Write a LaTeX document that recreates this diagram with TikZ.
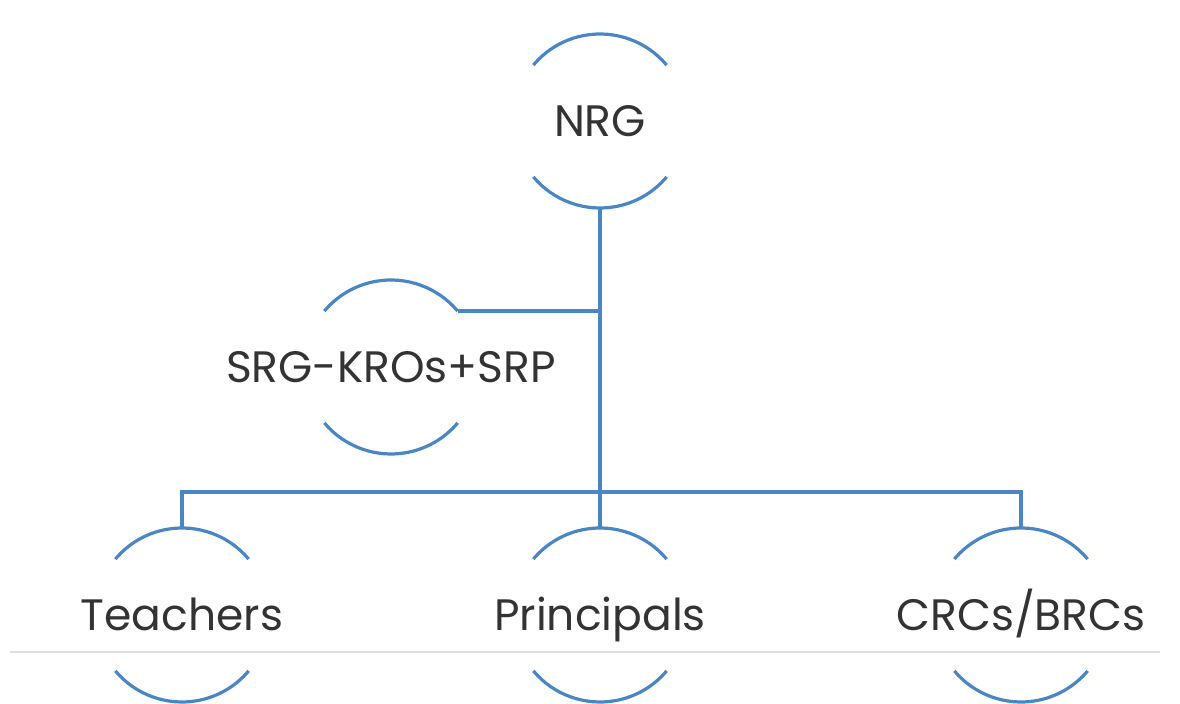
\documentclass[tikz,border=0pt]{standalone}
\usepackage{fontspec}
\setmainfont{Poppins}
\usepackage{tikz}
\usetikzlibrary{positioning}
\definecolor{linkblue}{RGB}{74,134,196}
\definecolor{labelgray}{RGB}{51,51,51}
\def\RingRad{43.5pt}

\begin{document}
\begin{tikzpicture}[x=0.5pt,y=-0.5pt,
	ring/.style={inner sep=0pt,outer sep=0pt,
		text=labelgray,text height=16pt,text depth=0pt,
		font=\fontsize{22}{26}\selectfont},
	rim/.style={draw=linkblue,line width=1.6pt},
	link/.style={draw=linkblue,line width=1.6pt}]
	\useasboundingbox (0,0) rectangle (1180,704);
	% rings
	\node[ring] (nrg) at (600,121) {NRG};
	\node[ring] (srg) at (391,367) {SRG-KROs+SRP};
	\node[ring] (prin) at (600,615) {Principals};
	\node[ring] (teach) at (182,615) {Teachers};
	\node[ring] (crc) at (1021,615) {CRCs/BRCs};
	% ring tops and bottoms
	\foreach \r in {nrg,srg,prin,teach,crc}{
		\coordinate (\r-top) at ([yshift=\RingRad]\r.center);
		\coordinate (\r-bot) at ([yshift=-\RingRad]\r.center);
		\coordinate (\r-ne) at ([shift={(40:\RingRad)}]\r.center);
	}
	\coordinate (bus) at (600,492);
	% faint rule under the bottom row
	\draw[black!13,line width=0.6pt] (10,652) -- (1160,652);
	% arcs of every ring
	\foreach \r in {nrg,srg,prin,teach,crc}{
		\draw[rim] (\r-ne) arc[start angle=40,end angle=140,radius=\RingRad];
		\draw[rim] ([shift={(-140:\RingRad)}]\r.center) arc[start angle=-140,end angle=-40,radius=\RingRad];
	}
	% links
	\draw[link] (nrg-bot) -- (prin-top);
	\draw[link] (srg-ne) -- (nrg-bot |- srg-ne);
	\draw[link] (teach-top) |- (bus) -| (crc-top);
\end{tikzpicture}
\end{document}
